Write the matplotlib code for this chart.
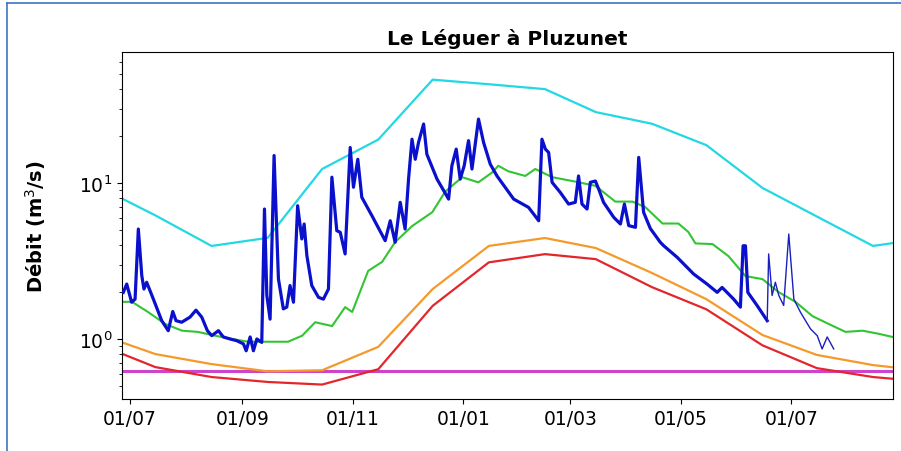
import matplotlib
matplotlib.use("Agg")
import matplotlib.pyplot as plt
import matplotlib.dates as mdates
from matplotlib.lines import Line2D
from matplotlib.ticker import NullFormatter
import pandas as pd

# reference date for the day offsets below
start = pd.Timestamp("2022-07-01")

# monthly statistics (plotted mid-month)
stat_dates = ["2022-06-15", "2022-07-15", "2022-08-15", "2022-09-15", "2022-10-15",
              "2022-11-15", "2022-12-15", "2023-01-15", "2023-02-15", "2023-03-15",
              "2023-04-15", "2023-05-15", "2023-06-15", "2023-07-15", "2023-08-15",
              "2023-09-15"]
q_high = [9.3, 6.2, 3.95, 4.45, 12.3, 19.0, 46.0, 43.0, 40.0, 28.5, 24.0, 17.5, 9.3, 6.1, 3.95, 4.45]
q_low = [1.06, 0.80, 0.69, 0.62, 0.63, 0.89, 2.09, 3.95, 4.44, 3.83, 2.65, 1.80, 1.06, 0.79, 0.68, 0.62]
q_vlow = [0.91, 0.66, 0.57, 0.53, 0.51, 0.64, 1.63, 3.1, 3.5, 3.25, 2.15, 1.55, 0.91, 0.65, 0.57, 0.53]

# seuil (horizontal)
seuil = 0.625

# median flow, daily curve (days from 01/07/2022)
med_day = [-4.4, 1.1, 9.9, 19.3, 28.7, 37.5, 46.9, 56.3, 65.2, 74.5, 87.2, 95.0, 102.2,
           111.5, 118.7, 122.6, 131.4, 139.1, 146.3, 155.7, 166.8, 173.9, 183.3, 192.2,
           199.9, 203.2, 208.7, 218.1, 223.6, 233.0, 244.1, 256.8, 267.8, 277.2, 284.4,
           293.8, 302.6, 308.1, 312.0, 321.4, 330.2, 339.6, 349.0, 357.8, 367.2, 376.6,
           385.4, 394.8, 404.2, 413.0, 420.8]
med_val = [1.73, 1.73, 1.49, 1.25, 1.13, 1.11, 1.05, 1.00, 0.96, 0.96, 0.96, 1.05, 1.28,
           1.21, 1.60, 1.49, 2.73, 3.12, 4.18, 5.30, 6.5, 8.8, 10.9, 10.1,
           11.7, 12.9, 11.9, 11.1, 12.3, 10.9, 10.3, 9.6, 7.6, 7.6, 7.0,
           5.5, 5.5, 4.85, 4.1, 4.06, 3.4, 2.53, 2.42, 2.0, 1.73, 1.40,
           1.25, 1.11, 1.13, 1.08, 1.03]

# observed flow, validated
obs_day = [-3.7, -1.8, 0.9, 2.8, 4.6, 6.5, 7.7, 9.2, 12.9, 17.5, 21.1, 23.6, 25.4, 28.5,
           33.1, 36.4, 39.6, 42.7, 45.1, 48.8, 51.5, 55.2, 58.9, 62.6, 64.1, 66.3, 68.1,
           70.0, 72.7, 74.2, 75.5, 77.3, 79.5, 81.9, 84.6, 86.5, 88.3, 90.2, 92.5, 94.8,
           96.1, 97.6, 100.3, 104.0, 106.7, 109.5, 111.4, 114.1, 116.0, 118.7, 121.5,
           123.3, 125.7, 127.9, 133.5, 140.8, 143.6, 146.3, 149.1, 151.8, 153.7, 155.6,
           157.4, 159.2, 162.0, 163.8, 169.4, 175.8, 177.6, 180.0, 182.2, 184.4, 186.8,
           188.7, 192.3, 195.1, 198.8, 202.5, 211.7, 219.9, 222.7, 225.5, 227.3, 229.2,
           231.0, 232.9, 237.4, 242.0, 245.7, 247.5, 249.4, 252.2, 254.0, 256.8, 258.6,
           261.3, 266.9, 270.6, 272.8, 275.2, 278.9, 280.7, 283.4, 287.1, 292.6, 294.5,
           301.9, 305.5, 311.0, 318.4, 324.0, 326.7, 333.1, 336.8, 338.3, 339.6, 340.9,
           346.0, 351.6]
obs_val = [1.99, 2.25, 1.72, 1.80, 5.07, 2.55, 2.09, 2.31, 1.80, 1.31, 1.13, 1.50, 1.31, 1.28,
           1.38, 1.53, 1.38, 1.13, 1.05, 1.13, 1.03, 1.00, 0.975, 0.93, 0.84, 1.03, 0.84,
           1.00, 0.95, 6.81, 1.90, 1.34, 15.0, 2.43, 1.56, 1.60, 2.20, 1.72, 7.15, 4.38,
           5.46, 3.42, 2.20, 1.85, 1.80, 2.09, 10.9, 4.95, 4.83, 3.51, 16.9,
           9.4, 14.2, 8.1, 6.17, 4.27, 5.73, 4.17, 7.52, 5.07, 10.6, 19.1,
           14.2, 18.2, 23.9, 15.3, 10.6, 7.89, 12.9, 16.5, 10.6, 12.9, 18.7,
           12.3, 25.7, 18.2, 13.2, 11.1, 7.89, 6.98, 6.33, 5.73, 19.1, 16.5,
           15.7, 10.1, 8.71, 7.33, 7.52, 11.1, 7.33, 6.81, 10.1, 10.3, 9.15,
           7.52, 6.03, 5.46, 7.33, 5.33, 5.20, 14.6, 6.49, 5.11, 4.17, 3.96,
           3.34, 3.03, 2.61, 2.25, 1.99, 2.14, 1.80, 1.60, 3.96, 3.96, 1.99,
           1.64, 1.31]

# observed flow, provisional
prov_day = [351.6, 352.4, 354.3, 356.1, 358.0, 360.7, 363.5, 366.3, 370.0, 375.5, 379.2,
            381.9, 384.7, 388.3]
prov_val = [1.31, 3.51, 1.90, 2.31, 1.90, 1.64, 4.71, 1.80, 1.48, 1.16, 1.05,
            0.863, 1.03, 0.863]


def to_dates(days):
    return start + pd.to_timedelta(days, unit="D")


fig = plt.figure(figsize=(9.01, 4.52), dpi=100)
ax = fig.add_axes([0.1354, 0.115, 0.8557, 0.7677])

sd = pd.to_datetime(stat_dates)
ax.axhline(seuil, color="#cc44cc", lw=2.2, zorder=1)
ax.plot(sd, q_high, color="#22d8e2", lw=1.6, zorder=2)
ax.plot(to_dates(med_day), med_val, color="#33c433", lw=1.5, zorder=2)
ax.plot(sd, q_low, color="#f59a2a", lw=1.6, zorder=2)
ax.plot(sd, q_vlow, color="#e3262b", lw=1.6, zorder=2)
ax.plot(to_dates(obs_day), obs_val, color="#0a10cc", lw=2.3, zorder=3)
ax.plot(to_dates(prov_day), prov_val, color="#1a1fc0", lw=1.0, zorder=3)

ax.set_yscale("log")
ax.set_ylim(0.412, 69.2)
ax.set_xlim(pd.Timestamp("2022-06-26 14:00"), pd.Timestamp("2023-08-26"))
ax.yaxis.set_minor_formatter(NullFormatter())
ax.xaxis.set_major_locator(mdates.MonthLocator(bymonth=[1, 3, 5, 7, 9, 11]))
ax.xaxis.set_major_formatter(mdates.DateFormatter("%d/%m"))
ax.tick_params(labelsize=13.5)

ax.set_title("Le Léguer à Pluzunet", fontsize=14.5, fontweight="bold")
ax.set_ylabel("Débit (m$^3$/s)", fontsize=14, fontweight="bold")
ax.yaxis.set_label_coords(-0.096, 0.5)

# frame of the page around the chart
fig.add_artist(Line2D([6.5 / 901, 6.5 / 901], [0, 1 - 4 / 452], transform=fig.transFigure,
                      color="#3d74c7", lw=1.2))
fig.add_artist(Line2D([6.5 / 901, 1], [1 - 4 / 452, 1 - 4 / 452], transform=fig.transFigure,
                      color="#3d74c7", lw=1.2))

fig.savefig("out.png", dpi=100)
